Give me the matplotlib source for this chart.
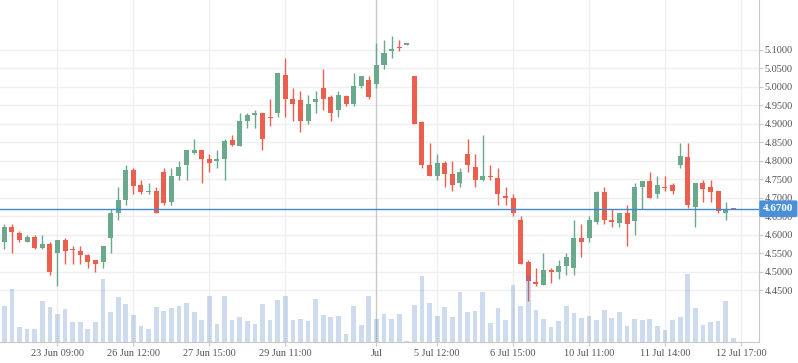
import matplotlib
matplotlib.use('Agg')
import matplotlib.pyplot as plt
from matplotlib.patches import FancyBboxPatch

opens = [4.581, 4.620, 4.604, 4.581, 4.593, 4.565, 4.575, 4.550, 4.585, 4.562,
         4.556, 4.545, 4.531, 4.527, 4.592, 4.659, 4.695, 4.775, 4.734, 4.715,
         4.718, 4.770, 4.689, 4.760, 4.789, 4.822, 4.829, 4.805, 4.800, 4.806,
         4.856, 4.841, 4.909, 4.925, 4.929, 4.919, 4.929, 5.032, 4.967, 4.965,
         4.908, 4.959, 4.997, 4.973, 4.937, 4.975, 4.954, 5.002, 5.019, 5.008,
         5.059, 5.098, 5.108, 5.114, 5.030, 4.905, 4.788, 4.759, 4.794, 4.764,
         4.740, 4.818, 4.783, 4.748, 4.759, 4.753, 4.705, 4.699, 4.640, 4.526,
         4.472, 4.464, 4.504, 4.499, 4.515, 4.510, 4.591, 4.591, 4.634, 4.715,
         4.640, 4.631, 4.659, 4.637, 4.729, 4.745, 4.710, 4.729, 4.734, 4.789,
         4.810, 4.675, 4.740, 4.729, 4.718, 4.659, 4.672]
highs = [4.629, 4.629, 4.610, 4.599, 4.598, 4.599, 4.580, 4.585, 4.591, 4.569,
         4.569, 4.547, 4.531, 4.569, 4.669, 4.729, 4.789, 4.780, 4.748, 4.739,
         4.729, 4.780, 4.780, 4.799, 4.829, 4.859, 4.829, 4.818, 4.829, 4.859,
         4.870, 4.929, 4.929, 4.938, 4.929, 4.967, 5.038, 5.078, 4.997, 4.989,
         4.978, 4.989, 5.049, 4.978, 4.989, 4.978, 5.038, 5.030, 5.030, 5.119,
         5.127, 5.138, 5.127, 5.119, 5.030, 4.908, 4.848, 4.818, 4.799, 4.799,
         4.780, 4.859, 4.818, 4.870, 4.788, 4.780, 4.729, 4.710, 4.650, 4.531,
         4.510, 4.550, 4.510, 4.531, 4.550, 4.640, 4.629, 4.650, 4.718, 4.729,
         4.669, 4.659, 4.680, 4.740, 4.745, 4.770, 4.759, 4.759, 4.740, 4.848,
         4.848, 4.740, 4.748, 4.748, 4.718, 4.688, 4.672]
lows = [4.562, 4.551, 4.581, 4.581, 4.561, 4.562, 4.491, 4.462, 4.520, 4.520,
        4.520, 4.510, 4.500, 4.510, 4.551, 4.640, 4.681, 4.711, 4.711, 4.711,
        4.659, 4.681, 4.681, 4.749, 4.749, 4.819, 4.741, 4.770, 4.781, 4.749,
        4.840, 4.841, 4.890, 4.890, 4.830, 4.895, 4.919, 4.919, 4.908, 4.878,
        4.900, 4.929, 4.937, 4.908, 4.919, 4.948, 4.948, 4.997, 4.967, 4.997,
        5.049, 5.078, 5.097, 5.114, 4.900, 4.780, 4.759, 4.748, 4.729, 4.718,
        4.729, 4.770, 4.729, 4.745, 4.748, 4.680, 4.680, 4.650, 4.521, 4.421,
        4.462, 4.464, 4.470, 4.481, 4.491, 4.491, 4.540, 4.581, 4.629, 4.629,
        4.621, 4.621, 4.569, 4.599, 4.669, 4.699, 4.699, 4.718, 4.710, 4.780,
        4.672, 4.621, 4.688, 4.688, 4.659, 4.640, 4.670]
closes = [4.620, 4.608, 4.586, 4.593, 4.565, 4.575, 4.500, 4.585, 4.556, 4.559,
          4.545, 4.527, 4.521, 4.569, 4.659, 4.694, 4.775, 4.733, 4.715, 4.718,
          4.659, 4.686, 4.759, 4.783, 4.829, 4.829, 4.806, 4.795, 4.805, 4.854,
          4.843, 4.908, 4.924, 4.929, 4.859, 4.917, 5.038, 4.967, 4.954, 4.908,
          4.954, 4.967, 4.967, 4.929, 4.978, 4.954, 5.002, 5.030, 4.973, 5.059,
          5.092, 5.103, 5.106, 5.119, 4.900, 4.788, 4.759, 4.794, 4.764, 4.734,
          4.770, 4.788, 4.748, 4.759, 4.756, 4.710, 4.699, 4.658, 4.521, 4.475,
          4.466, 4.504, 4.500, 4.515, 4.539, 4.591, 4.581, 4.640, 4.715, 4.640,
          4.634, 4.659, 4.629, 4.729, 4.745, 4.699, 4.734, 4.726, 4.718, 4.813,
          4.680, 4.740, 4.724, 4.715, 4.664, 4.669, 4.670]
volumes = [36000, 53000, 15000, 13000, 13000, 41000, 35000, 28000, 33000, 20000,
           20000, 13000, 20000, 63000, 30000, 45000, 38000, 27000, 16000, 13000,
           35000, 31000, 34000, 36000, 39000, 30000, 22000, 46000, 18000, 46000,
           22000, 25000, 21000, 18000, 38000, 22000, 42000, 46000, 22000, 23000,
           21000, 43000, 27000, 25000, 26000, 8000, 36000, 17000, 46000, 23000,
           28000, 23000, 28000, 1300, 37000, 66000, 39000, 26000, 35000, 25000,
           50000, 30000, 31000, 50000, 19000, 34000, 22000, 57000, 36000, 66000,
           32000, 23000, 15000, 21000, 36000, 29000, 24000, 26000, 22000, 32000,
           24000, 30000, 16000, 23000, 22000, 23000, 16000, 12000, 22000, 25000,
           68000, 34000, 17000, 20000, 21000, 41000, 4000]

tick_pos = [7, 17, 27, 37, 49, 57, 67, 77, 87, 97]
tick_labels = ['23 Jun 09:00', '26 Jun 12:00', '27 Jun 15:00', '29 Jun 11:00', 'Jul',
               '5 Jul 12:00', '6 Jul 15:00', '10 Jul 11:00', '11 Jul 14:00', '12 Jul 17:00']
price_ticks = [4.45, 4.50, 4.55, 4.60, 4.65, 4.70, 4.75, 4.80, 4.85, 4.90, 4.95, 5.00, 5.05, 5.10]
last_price = 4.67

UP = '#6aa98c'
DOWN = '#eb5f4f'
GRID = '#efefef'
AXIS = '#c8c8c8'
TXT = '#555555'
FONT = 'Liberation Serif'
FS = 7.4

W, H = 798, 363
fig = plt.figure(figsize=(W / 100, H / 100), dpi=100)
ax = fig.add_axes([0, 1 - 342 / H, 759 / W, 342 / H])
ax.set_xlim(-0.566, 99.38)
ax.set_ylim(4.3092, 5.2354)

# grid
for p in price_ticks:
    ax.axhline(p, color=GRID, lw=1.0, zorder=0)
for t, lab in zip(tick_pos, tick_labels):
    if lab == 'Jul':
        ax.axvline(t, color=AXIS, lw=1.0, zorder=0.5)
    else:
        ax.axvline(t, color=GRID, lw=1.0, zorder=0)

# candles
n = len(opens)
xs = list(range(n))
for i in xs:
    o, h, l, c = opens[i], highs[i], lows[i], closes[i]
    col = UP if c >= o else DOWN
    ax.vlines(i, l, h, color=col, lw=1.0, zorder=2)
    bot = min(o, c)
    hgt = max(abs(c - o), 0.0018)
    ax.bar(i, hgt, bottom=bot, width=0.66, color=col, zorder=3, linewidth=0)

# last price line
ax.axhline(last_price, color='#3f87d2', lw=1.0, zorder=4)

# volume
axv = ax.twinx()
axv.set_ylim(0, 342000)
axv.bar(xs, volumes, width=0.62, color=(0.27, 0.45, 0.74, 0.26), linewidth=0, zorder=5)
axv.set_yticks([])

for a in (ax, axv):
    for s in ('top', 'left'):
        a.spines[s].set_visible(False)
    a.spines['right'].set_color(AXIS)
    a.spines['bottom'].set_color(AXIS)
axv.spines['right'].set_visible(False)
axv.spines['bottom'].set_visible(False)

ax.yaxis.tick_right()
ax.set_yticks(price_ticks)
ax.set_yticklabels([f'{p:.4f}' for p in price_ticks])
ax.tick_params(axis='y', which='both', direction='out', length=3, width=0.8,
               color=AXIS, labelcolor=TXT, labelsize=FS, pad=1)
ax.set_xticks(tick_pos)
ax.set_xticklabels(tick_labels)
ax.tick_params(axis='x', direction='out', length=3, width=0.8, color=AXIS,
               labelcolor=TXT, labelsize=FS, pad=2)
for lab in ax.get_xticklabels() + ax.get_yticklabels():
    lab.set_fontfamily(FONT)

# last price label box
ax.annotate(f'{last_price:.4f}', xy=(1.0, last_price), xycoords=('axes fraction', 'data'),
            xytext=(3, 0), textcoords='offset points', ha='left', va='center',
            fontsize=FS + 0.6, fontweight='bold', color='white', fontfamily=FONT,
            bbox=dict(boxstyle='round,pad=0.35,rounding_size=0.15', fc='#4a8fd8', ec='none'),
            zorder=10, annotation_clip=False)

fig.savefig('out.png', dpi=100)
